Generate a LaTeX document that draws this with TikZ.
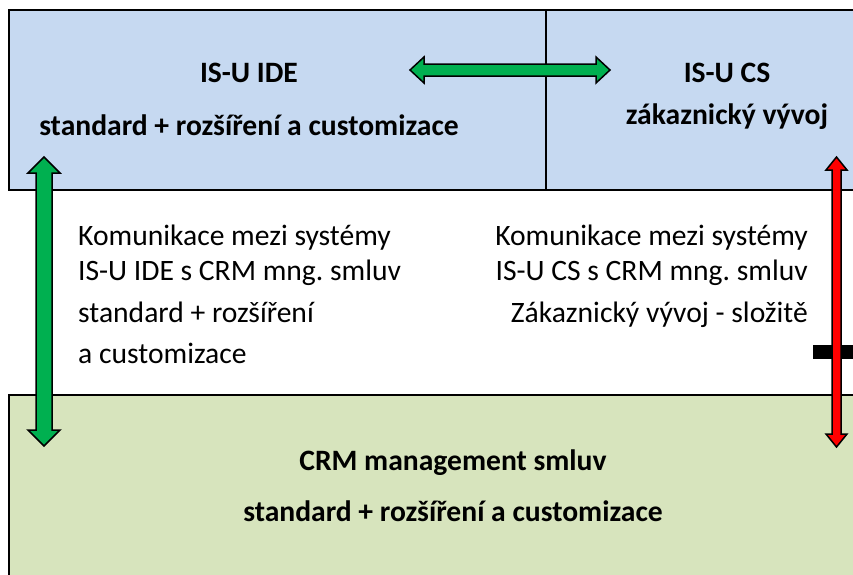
\documentclass[tikz,border=0pt]{standalone}
\usepackage{fontspec}
\setmainfont{Carlito}
\frenchspacing
\definecolor{topblue}{HTML}{C6D9F1}
\definecolor{botgreen}{HTML}{D7E4BD}
\definecolor{arrgreen}{HTML}{00B050}
\definecolor{arrred}{HTML}{FF0000}
\tikzset{
  panel/.style={draw=black, line width=2pt},
  bigarrow/.style={draw=black, line width=1.5pt, line join=miter},
  lbl/.style={inner sep=0pt, font=\fontsize{29.6}{35}\selectfont},
  blbl/.style={inner sep=0pt, font=\fontsize{29.6}{35}\selectfont\bfseries},
}
\begin{document}
\begin{tikzpicture}[x=1pt,y=-1pt]
\useasboundingbox (0,0) rectangle (853,574);
\begin{scope}
\clip (0,0) rectangle (853,574);
% panels
\path[panel, fill=topblue] (9,10) rectangle (546,190);
\path[panel, fill=topblue] (546,10) rectangle (870,190);
\path[panel, fill=botgreen] (9,395) rectangle (870,590);
% black bar
\fill[black] (813,345) rectangle (860,359);
% horizontal green arrow
\path[bigarrow, fill=arrgreen] (410,70) -- (424,57) -- (424,64) -- (596,64) -- (596,57) -- (610,70)
  -- (596,83) -- (596,76) -- (424,76) -- (424,83) -- cycle;
% left vertical green arrow
\path[bigarrow, fill=arrgreen] (44,157) -- (60,173) -- (52,173) -- (52,430) -- (60,430) -- (44,446)
  -- (28,430) -- (36,430) -- (36,173) -- (28,173) -- cycle;
% right vertical red arrow
\path[bigarrow, fill=arrred] (836.5,157) -- (847,170) -- (841,170) -- (841,434) -- (847,434) -- (836.5,447)
  -- (826,434) -- (832,434) -- (832,170) -- (826,170) -- cycle;
\end{scope}
% texts
\node[blbl, anchor=base] (ide) at (249,82) {IS-U IDE};
\node[blbl, anchor=base] (idesub) at (249,135) {standard + rozšíření a customizace};
\node[blbl, anchor=base] (cs) at (727,82) {IS-U CS};
\node[blbl, anchor=base] (cssub) at (727,124) {zákaznický vývoj};
\node[lbl, anchor=base west] (l1) at (78,245) {Komunikace mezi systémy};
\node[lbl, anchor=base west] (l2) at (78,280) {IS-U IDE s CRM mng. smluv};
\node[lbl, anchor=base west] (l3) at (78,322) {standard + rozšíření};
\node[lbl, anchor=base west] (l4) at (78,363) {a customizace};
\node[lbl, anchor=base east] (r1) at (808,245) {Komunikace mezi systémy};
\node[lbl, anchor=base east] (r2) at (808,280) {IS-U CS s CRM mng. smluv};
\node[lbl, anchor=base east] (r3) at (808,322) {Zákaznický vývoj - složitě};
\node[blbl, anchor=base] (crm) at (453,470) {CRM management smluv};
\node[blbl, anchor=base] (crmsub) at (453,521) {standard + rozšíření a customizace};
\end{tikzpicture}
\end{document}
